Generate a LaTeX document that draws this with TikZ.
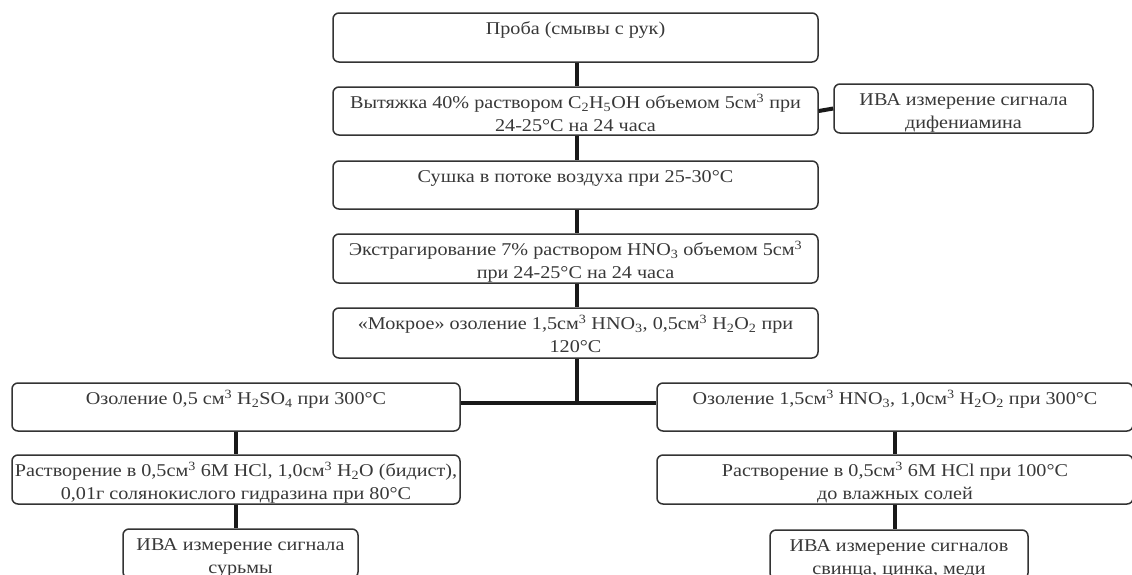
\documentclass[tikz,border=0pt]{standalone}
\usepackage{fontspec}
\setmainfont[FakeStretch=1.12]{Liberation Serif}
\newcommand{\fl}{\rule{0pt}{22pt}}
\begin{document}
\begin{tikzpicture}[x=1pt,y=-1pt,
  box/.style={draw=black!80, line width=1.5pt, rounded corners=6pt,
    minimum height=49pt, inner sep=0pt},
  txt/.style={anchor=north, inner sep=0pt, align=center, text=black!78,
    font=\fontsize{18}{23}\selectfont},
  conn/.style={line width=4pt, black!90}]
\useasboundingbox (0,0) rectangle (1132,574);
\clip (0,0) rectangle (1132,574);
% boxes
\node[box, minimum width=485pt] (p1) at (575.5,37.5) {};
\node[box, minimum width=485pt, minimum height=48pt] (p2) at (575.5,111) {};
\node[box, minimum width=259pt] (side) at (963.5,108.5) {};
\node[box, minimum width=485pt, minimum height=48pt] (p3) at (575.5,185) {};
\node[box, minimum width=485pt] (p4) at (575.5,258.5) {};
\node[box, minimum width=485pt, minimum height=50pt] (p5) at (575.5,333) {};
\node[box, minimum width=448pt, minimum height=48pt] (l1) at (236,407) {};
\node[box, minimum width=476pt, minimum height=48pt] (r1) at (895,407) {};
\node[box, minimum width=448pt] (l2) at (236,479.5) {};
\node[box, minimum width=476pt] (r2) at (895,479.5) {};
\node[box, minimum width=235pt] (l3) at (240.5,553.5) {};
\node[box, minimum width=258pt] (r3) at (899,554.5) {};
% texts
\node[txt] (p1t) at (p1.north) {\fl Проба (смывы с рук)};
\node[txt] (p2t) at (p2.north) {\fl Вытяжка 40\% раствором C\textsubscript{2}H\textsubscript{5}OH объемом 5см\textsuperscript{3} при\\24-25°С на 24 часа};
\node[txt] (sidet) at (side.north) {\fl ИВА измерение сигнала\\дифениамина};
\node[txt] (p3t) at (p3.north) {\fl Сушка в потоке воздуха при 25-30°С};
\node[txt] (p4t) at (p4.north) {\fl Экстрагирование 7\% раствором HNO\textsubscript{3} объемом 5см\textsuperscript{3}\\при 24-25°С на 24 часа};
\node[txt] (p5t) at (p5.north) {\fl «Мокрое» озоление 1,5см\textsuperscript{3} HNO\textsubscript{3}, 0,5см\textsuperscript{3} H\textsubscript{2}O\textsubscript{2} при\\120°С};
\node[txt] (l1t) at (l1.north) {\fl Озоление 0,5 см\textsuperscript{3} H\textsubscript{2}SO\textsubscript{4} при 300°С};
\node[txt] (r1t) at (r1.north) {\fl Озоление 1,5см\textsuperscript{3} HNO\textsubscript{3}, 1,0см\textsuperscript{3} H\textsubscript{2}O\textsubscript{2} при 300°С};
\node[txt] (l2t) at (l2.north) {\fl Растворение в 0,5см\textsuperscript{3} 6М HCl, 1,0см\textsuperscript{3} H\textsubscript{2}O (бидист),\\0,01г солянокислого гидразина при 80°С};
\node[txt] (r2t) at (r2.north) {\fl Растворение в 0,5см\textsuperscript{3} 6М HCl при 100°С\\до влажных солей};
\node[txt] (l3t) at (l3.north) {\fl ИВА измерение сигнала\\сурьмы};
\node[txt] (r3t) at (r3.north) {\fl ИВА измерение сигналов\\свинца, цинка, меди};
% connectors
\coordinate (j) at (577,403);
\draw[conn] (p1.south -| j) -- (p2.north -| j);
\draw[conn] (p2.east) -- (side.west);
\draw[conn] (p2.south -| j) -- (p3.north -| j);
\draw[conn] (p3.south -| j) -- (p4.north -| j);
\draw[conn] (p4.south -| j) -- (p5.north -| j);
\draw[conn] (p5.south -| j) -- (j);
\draw[conn] (l1.east |- j) -- (r1.west |- j);
\draw[conn] (l1) -- (l2);
\draw[conn] (l2.south) -- (l3.north -| l2.south);
\draw[conn] (r1) -- (r2);
\draw[conn] (r2.south) -- (r3.north -| r2.south);
\end{tikzpicture}
\end{document}
